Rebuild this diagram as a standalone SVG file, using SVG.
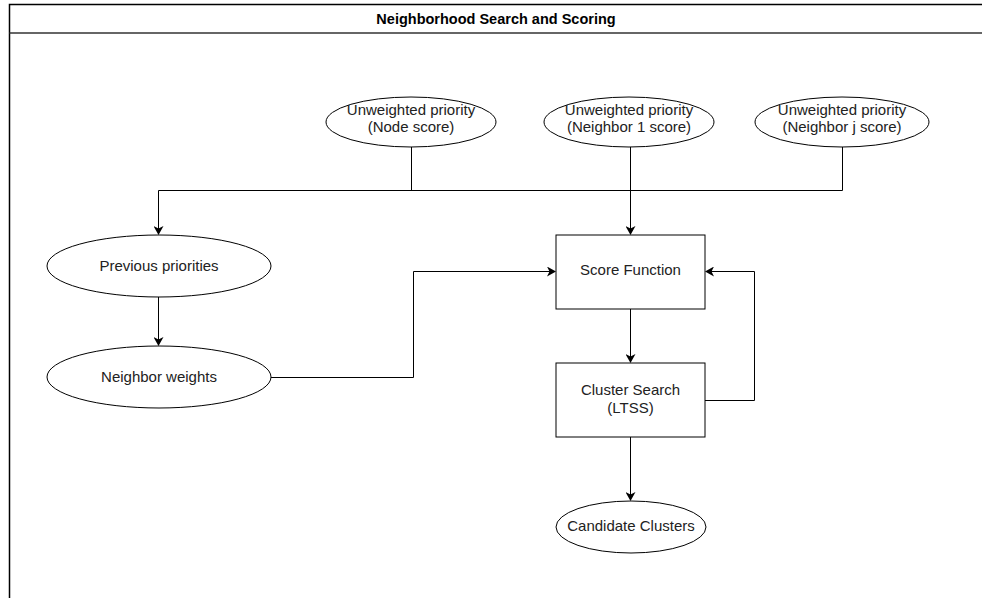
<svg xmlns="http://www.w3.org/2000/svg" width="982" height="598" viewBox="0 0 982 598">
<defs>
<marker id="arr" markerWidth="10" markerHeight="10" refX="8" refY="5" orient="auto" markerUnits="userSpaceOnUse">
<path d="M0,0 L9,5 L0,10 L2.5,5 Z" fill="#000"/>
</marker>
<style>
.shape{fill:#fff;stroke:#000;stroke-width:1}
.t{font-family:"Liberation Sans",Arial,Helvetica,sans-serif;font-size:15px;fill:#222;text-anchor:middle}
.h{font-family:"Liberation Sans",Arial,Helvetica,sans-serif;font-size:14.5px;font-weight:bold;fill:#000;text-anchor:middle}
.c{fill:none;stroke:#000;stroke-width:1}
</style>
</defs>
<rect width="982" height="598" fill="#fff"/>
<g id="frame">
<rect x="9.5" y="4.5" width="1000" height="700" fill="none" stroke="#000" stroke-width="1.5"/>
<line x1="9.5" y1="33" x2="982" y2="33" stroke="#333" stroke-width="1.5"/>
<text class="h" x="496" y="24">Neighborhood Search and Scoring</text>
</g>
<g id="connectors">
<path class="c" d="M411.5,147 V190.5"/>
<path class="c" d="M842.5,147 V190.5"/>
<path class="c" d="M158.5,190.5 H842.5"/>
<path class="c" d="M158.5,190.5 V234" marker-end="url(#arr)"/>
<path class="c" d="M630.5,147 V234" marker-end="url(#arr)"/>
<path class="c" d="M158.5,297 V345" marker-end="url(#arr)"/>
<path class="c" d="M271,377.5 H413.5 V271.5 H555" marker-end="url(#arr)"/>
<path class="c" d="M630.5,309 V362" marker-end="url(#arr)"/>
<path class="c" d="M705,400.5 H754.5 V271.5 H706" marker-end="url(#arr)"/>
<path class="c" d="M630.5,437 V500" marker-end="url(#arr)"/>
</g>
<g id="node-score">
<ellipse class="shape" cx="411" cy="122" rx="85" ry="25"/>
<text class="t" x="411" y="114.5">Unweighted priority</text>
<text class="t" x="411" y="132">(Node score)</text>
</g>
<g id="neighbor1-score">
<ellipse class="shape" cx="629" cy="122" rx="85" ry="25"/>
<text class="t" x="629" y="114.5">Unweighted priority</text>
<text class="t" x="629" y="132">(Neighbor 1 score)</text>
</g>
<g id="neighborj-score">
<ellipse class="shape" cx="842" cy="122" rx="87" ry="25"/>
<text class="t" x="842" y="114.5">Unweighted priority</text>
<text class="t" x="842" y="132">(Neighbor j score)</text>
</g>
<g id="previous-priorities">
<ellipse class="shape" cx="159" cy="266" rx="112" ry="31"/>
<text class="t" x="159" y="271">Previous priorities</text>
</g>
<g id="neighbor-weights">
<ellipse class="shape" cx="159" cy="377" rx="112" ry="31"/>
<text class="t" x="159" y="382">Neighbor weights</text>
</g>
<g id="score-function">
<rect class="shape" x="556" y="235" width="149" height="74"/>
<text class="t" x="630.5" y="275">Score Function</text>
</g>
<g id="cluster-search">
<rect class="shape" x="556" y="363" width="149" height="74"/>
<text class="t" x="630.5" y="395">Cluster Search</text>
<text class="t" x="630.5" y="413">(LTSS)</text>
</g>
<g id="candidate-clusters">
<ellipse class="shape" cx="631" cy="527" rx="75" ry="26"/>
<text class="t" x="631" y="531">Candidate Clusters</text>
</g>
</svg>
